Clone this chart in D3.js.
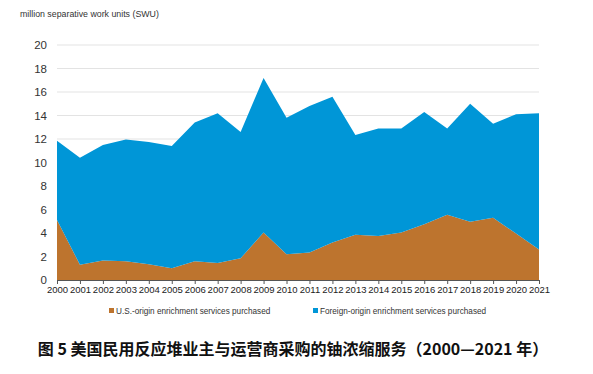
<!DOCTYPE html>
<html>
<head>
<meta charset="utf-8">
<script src="https://cdn.jsdelivr.net/npm/d3@7"></script>
<style>
  body { margin: 0; background: #fff; }
  svg { display: block; font-family: "Liberation Sans", Arial, sans-serif; }
</style>
</head>
<body>
<svg id="chart" width="593" height="374"></svg>
<script>
// data
var years = [2000, 2001, 2002, 2003, 2004, 2005, 2006, 2007, 2008, 2009, 2010,
             2011, 2012, 2013, 2014, 2015, 2016, 2017, 2018, 2019, 2020, 2021];
var usOrigin = [5.1, 1.3, 1.65, 1.6, 1.35, 1.0, 1.6, 1.45, 1.85, 4.05, 2.2,
                2.35, 3.2, 3.85, 3.75, 4.05, 4.75, 5.55, 4.95, 5.3, 3.95, 2.6];
var totals = [11.85, 10.4, 11.5, 11.95, 11.75, 11.4, 13.4, 14.2, 12.6, 17.2, 13.8,
              14.8, 15.6, 12.35, 12.9, 12.9, 14.3, 12.9, 15.0, 13.3, 14.1, 14.2];
var foreignOrigin = totals.map(function (t, i) { return +(t - usOrigin[i]).toFixed(2); });
var yTicks = [0, 2, 4, 6, 8, 10, 12, 14, 16, 18, 20];
var seriesNames = ["U.S.-origin enrichment services purchased",
                   "Foreign-origin enrichment services purchased"];
var colors = ["#BD742E", "#0096D7"];

var svg = d3.select("#chart"),
    margin = { top: 45, right: 54, bottom: 94, left: 57 },
    width = +svg.attr("width") - margin.left - margin.right,
    height = +svg.attr("height") - margin.top - margin.bottom;

var x = d3.scaleLinear().domain([2000, 2021]).range([0, width]);
var y = d3.scaleLinear().domain([0, 20]).range([height, 0]);

var g = svg.append("g")
    .attr("transform", "translate(" + margin.left + "," + margin.top + ")");

// gridlines
g.append("g")
    .selectAll("line")
    .data(yTicks.slice(1))
    .enter()
    .append("line")
    .attr("x1", 0)
    .attr("x2", width)
    .attr("y1", function (d) { return y(d); })
    .attr("y2", function (d) { return y(d); })
    .attr("stroke", "#e3e3e3")
    .attr("stroke-width", 1);

var table = years.map(function (yr, i) {
    return { year: yr, us: usOrigin[i], foreign: foreignOrigin[i] };
});
var stack = d3.stack().keys(["us", "foreign"]);
var layers = stack(table);

var area = d3.area()
    .x(function (d) { return x(d.data.year); })
    .y0(function (d) { return y(d[0]); })
    .y1(function (d) { return y(d[1]); });

g.selectAll(".layer")
    .data(layers)
    .enter()
    .append("path")
    .attr("class", "layer")
    .attr("d", area)
    .attr("fill", function (d, i) { return colors[i]; });

// x axis
var xAxis = d3.axisBottom(x)
    .tickValues(years)
    .tickFormat(d3.format("d"))
    .tickSize(4)
    .tickSizeOuter(0);

var gx = g.append("g")
    .attr("transform", "translate(0," + height + ")")
    .call(xAxis);
gx.select(".domain").attr("stroke", "#555");
gx.selectAll(".tick line").attr("stroke", "#555");
gx.selectAll("text")
    .attr("fill", "#222")
    .attr("dy", "0.75em")
    .attr("y", 6)
    .style("font-size", "9.5px");

// y axis
var yAxis = d3.axisLeft(y).tickValues(yTicks).tickSize(0).tickPadding(10);
var gy = g.append("g").call(yAxis);
gy.select(".domain").remove();
gy.selectAll("text")
    .attr("fill", "#333")
    .style("font-size", "11.5px");

// axis title
svg.append("text")
    .attr("x", 20)
    .attr("y", 17)
    .attr("fill", "#333")
    .style("font-size", "8.8px")
    .text("million separative work units (SWU)");

// legend
var legendX = [109, 313];
var legend = svg.selectAll(".legend")
    .data(seriesNames)
    .enter()
    .append("g")
    .attr("class", "legend")
    .attr("transform", function (d, i) { return "translate(" + legendX[i] + ",308)"; });
legend.append("rect")
    .attr("width", 5)
    .attr("height", 5)
    .attr("fill", function (d, i) { return colors[i]; });
legend.append("text")
    .attr("x", 7)
    .attr("y", 5.5)
    .attr("fill", "#333")
    .style("font-size", "8.2px")
    .text(function (d) { return d; });

// caption
svg.append("text")
    .attr("x", 293)
    .attr("y", 355)
    .attr("text-anchor", "middle")
    .attr("fill", "#111")
    .style("font-family", "'Noto Sans CJK SC', sans-serif")
    .style("font-weight", "bold")
    .style("font-size", "16px")
    .text("图 5 美国民用反应堆业主与运营商采购的铀浓缩服务（2000—2021 年）");
</script>
</body>
</html>
